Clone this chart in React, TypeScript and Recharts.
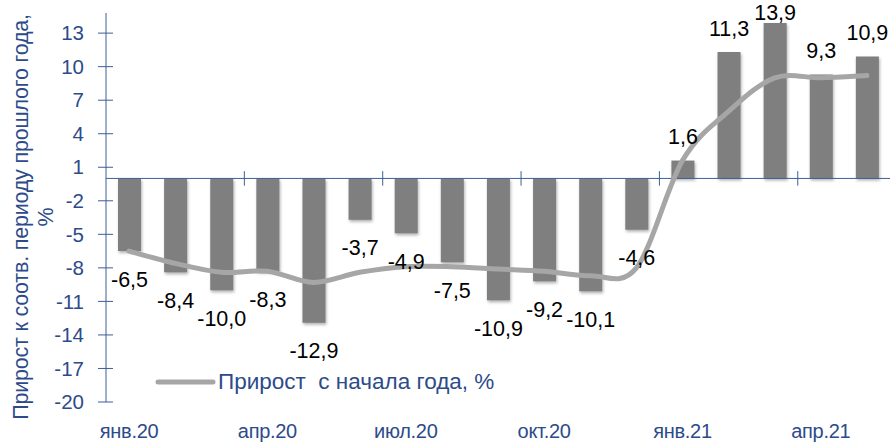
import { ComposedChart, Bar, Line, XAxis, YAxis, ReferenceLine, LabelList, Legend } from 'recharts'

const MONTHS = [
  'янв.20', 'фев.20', 'мар.20', 'апр.20', 'май.20', 'июн.20', 'июл.20', 'авг.20', 'сен.20',
  'окт.20', 'ноя.20', 'дек.20', 'янв.21', 'фев.21', 'мар.21', 'апр.21', 'май.21',
]
const YOY = [-6.5, -8.4, -10.0, -8.3, -12.9, -3.7, -4.9, -7.5, -10.9, -9.2, -10.1, -4.6, 1.6, 11.3, 13.9, 9.3, 10.9]
const YTD = [-6.5, -7.6, -8.4, -8.3, -9.3, -8.4, -7.9, -7.9, -8.1, -8.3, -8.7, -8.0, 1.6, 6.0, 9.0, 9.0, 9.2]
const X_TICKS = ['янв.20', 'апр.20', 'июл.20', 'окт.20', 'янв.21', 'апр.21']
const QUARTER_ENDS = ['мар.20', 'июн.20', 'сен.20', 'дек.20', 'мар.21']
const Y_TICKS = [-20, -17, -14, -11, -8, -5, -2, 1, 4, 7, 10, 13]

const data = MONTHS.map((m, i) => ({ month: m, yoy: YOY[i], ytd: YTD[i] }))

const FONT = '"Liberation Sans", Arial, sans-serif'
const BLUE = '#2D4B8A'
const AXIS = '#3E5E96'

// Excel-like smoothed line (Catmull-Rom through the points)
function excelSmooth(context: any) {
  let pts: number[][] = []
  return {
    areaStart() {},
    areaEnd() {},
    lineStart() { pts = [] },
    point(x: number, y: number) { pts.push([+x, +y]) },
    lineEnd() {
      if (!pts.length) return
      context.moveTo(pts[0][0], pts[0][1])
      const t = 1 / 6
      for (let i = 0; i < pts.length - 1; i++) {
        const p0 = pts[i - 1] || pts[i]
        const p1 = pts[i]
        const p2 = pts[i + 1]
        const p3 = pts[i + 2] || p2
        context.bezierCurveTo(
          p1[0] + (p2[0] - p0[0]) * t, p1[1] + (p2[1] - p0[1]) * t,
          p2[0] - (p3[0] - p1[0]) * t, p2[1] - (p3[1] - p1[1]) * t,
          p2[0], p2[1],
        )
      }
    },
  }
}

const YTick = ({ x, y, payload }: any) => (
  <g>
    <line x1={x - 8} x2={x + 7} y1={y} y2={y} stroke={AXIS} strokeWidth={1} />
    <text x={x - 22} y={y} dy="0.35em" textAnchor="end" fill={BLUE} fontSize={20.5} fontFamily={FONT}>
      {payload.value}
    </text>
  </g>
)

const XTick = ({ x, y, payload }: any) => (
  <text x={x} y={y} dy="0.71em" textAnchor="middle" fill={BLUE} fontSize={20} fontFamily={FONT} letterSpacing={-0.3}>
    {payload.value}
  </text>
)

const BarValue = ({ x, y, width, height, value }: any) => {
  const end = value >= 0 ? Math.min(y, y + height) : Math.max(y, y + height)
  const cy = value >= 0 ? Math.max(12, end - 24) : end + 28
  return (
    <text x={x + width / 2} y={cy} dy="0.35em" textAnchor="middle" fill="#000" fontSize={21.5} fontFamily={FONT}>
      {String(value.toFixed(1)).replace('.', ',')}
    </text>
  )
}

const YTitle = () => (
  <g fill={BLUE} fontSize={21.5} fontFamily={FONT} letterSpacing={-0.2}>
    <text x={20} y={217} textAnchor="middle" dy="0.35em" transform="rotate(-90, 20, 217)">
      Прирост к соотв. периоду прошлого года,
    </text>
    <text x={45} y={217} textAnchor="middle" dy="0.35em" transform="rotate(-90, 45, 217)">
      %
    </text>
  </g>
)

const LegendContent = () => (
  <div style={{ display: 'flex', alignItems: 'center', fontFamily: FONT, fontSize: 22.5, lineHeight: '26px', color: BLUE, whiteSpace: 'pre' }}>
    <svg width={63} height={10}>
      <line x1={3} x2={58} y1={5} y2={5} stroke="#A6A6A6" strokeWidth={5} strokeLinecap="round" />
    </svg>
    <span>Прирост  с начала года, %</span>
  </div>
)

export default function App() {
  return (
    <div style={{ position: 'absolute', left: 0, top: 0, background: '#fff' }}>
      <ComposedChart width={894} height={443} data={data} margin={{ top: 13, right: 4, bottom: 0, left: 0 }}>
        <XAxis
          dataKey="month"
          ticks={X_TICKS}
          interval={0}
          axisLine={false}
          tickLine={false}
          tickSize={0}
          tickMargin={22}
          height={41}
          tick={<XTick />}
        />
        <YAxis
          domain={[-20, 14.8]}
          ticks={Y_TICKS}
          interval={0}
          width={106}
          axisLine={{ stroke: AXIS, strokeWidth: 1 }}
          tickLine={false}
          tickSize={0}
          tickMargin={0}
          tick={<YTick />}
          allowDataOverflow
          label={<YTitle />}
        />
        <Bar
          dataKey="yoy"
          fill="#7F7F7F"
          barSize={23}
          isAnimationActive={false}
          style={{ filter: 'drop-shadow(1px 2px 1.5px rgba(0,0,0,0.3))' }}
        >
          <LabelList dataKey="yoy" content={<BarValue />} />
        </Bar>
        <ReferenceLine y={0} stroke={AXIS} strokeWidth={1} />
        {QUARTER_ENDS.map((m) => (
          <ReferenceLine
            key={m}
            segment={[{ x: m, y: -0.65 }, { x: m, y: 0.65 }]}
            position="end"
            stroke={AXIS}
            strokeWidth={1}
          />
        ))}
        <Line
          dataKey="ytd"
          type={excelSmooth as any}
          stroke="#A6A6A6"
          strokeWidth={5}
          strokeLinecap="round"
          dot={false}
          activeDot={false}
          isAnimationActive={false}
        />
        <Legend
          layout="vertical"
          align="center"
          verticalAlign="middle"
          content={<LegendContent />}
          wrapperStyle={{ left: 155, top: 369, width: 'auto' }}
        />
      </ComposedChart>
    </div>
  )
}
